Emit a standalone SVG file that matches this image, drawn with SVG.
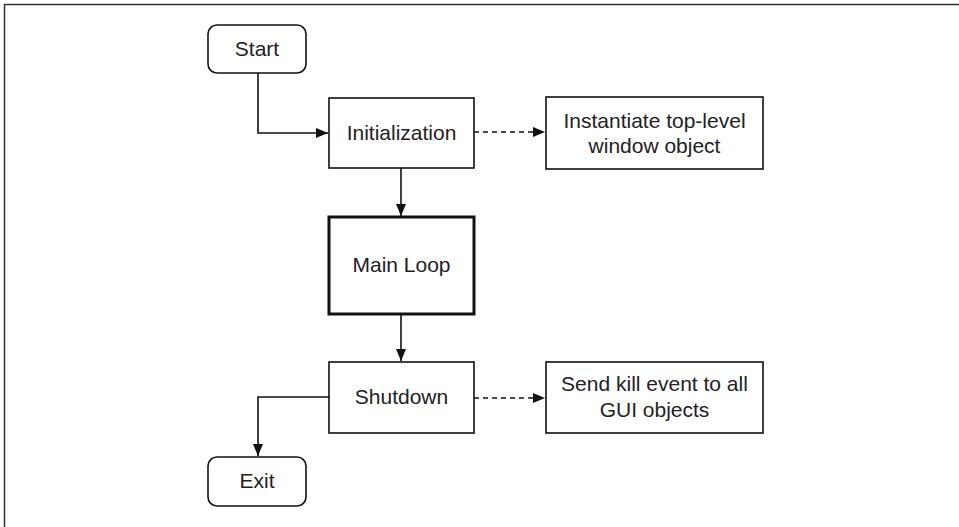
<svg xmlns="http://www.w3.org/2000/svg" width="959" height="527" viewBox="0 0 959 527">
<defs>
<style>
.box{fill:#fff;stroke:#111;stroke-width:1.6}
.thick{fill:#fff;stroke:#111;stroke-width:3}
.lbl{font-family:"Liberation Sans",Arial,sans-serif;font-size:21px;fill:#222;text-anchor:middle;dominant-baseline:central}
.con{fill:none;stroke:#111;stroke-width:1.6}
.dash{stroke-dasharray:5,4}
</style>
<marker id="ah" viewBox="0 0 12 10" refX="12" refY="5" markerWidth="12" markerHeight="10" markerUnits="userSpaceOnUse" orient="auto">
<path d="M0,0 L12,5 L0,10 z" fill="#111"/>
</marker>
</defs>
<rect width="959" height="527" fill="#fff"/>
<path d="M4.5,527 V4.5 H959" fill="none" stroke="#333" stroke-width="1.5"/>
<g id="connectors">
<path class="con" d="M258,73 V133 H328" marker-end="url(#ah)"/>
<path class="con dash" d="M474,132 H545" marker-end="url(#ah)"/>
<path class="con" d="M401,168 V216" marker-end="url(#ah)"/>
<path class="con" d="M401,314 V361" marker-end="url(#ah)"/>
<path class="con dash" d="M474,398 H545" marker-end="url(#ah)"/>
<path class="con" d="M329,397 H258 V456" marker-end="url(#ah)"/>
</g>
<g id="start"><rect class="box" x="208" y="25" width="98" height="48" rx="9"/><text class="lbl" x="257" y="48">Start</text></g>
<g id="init"><rect class="box" x="329" y="98" width="145" height="70"/><text class="lbl" x="401.5" y="132">Initialization</text></g>
<g id="instantiate"><rect class="box" x="546" y="97" width="217" height="72"/><text class="lbl" x="654.5" y="120">Instantiate top-level</text><text class="lbl" x="654.5" y="145">window object</text></g>
<g id="mainloop"><rect class="thick" x="329" y="217" width="145" height="97"/><text class="lbl" x="401.5" y="264">Main Loop</text></g>
<g id="shutdown"><rect class="box" x="329" y="362" width="145" height="71"/><text class="lbl" x="401.5" y="396">Shutdown</text></g>
<g id="sendkill"><rect class="box" x="546" y="362" width="217" height="71"/><text class="lbl" x="654.5" y="383">Send kill event to all</text><text class="lbl" x="654.5" y="409">GUI objects</text></g>
<g id="exit"><rect class="box" x="208" y="457" width="98" height="49" rx="9"/><text class="lbl" x="257" y="480">Exit</text></g>
</svg>
